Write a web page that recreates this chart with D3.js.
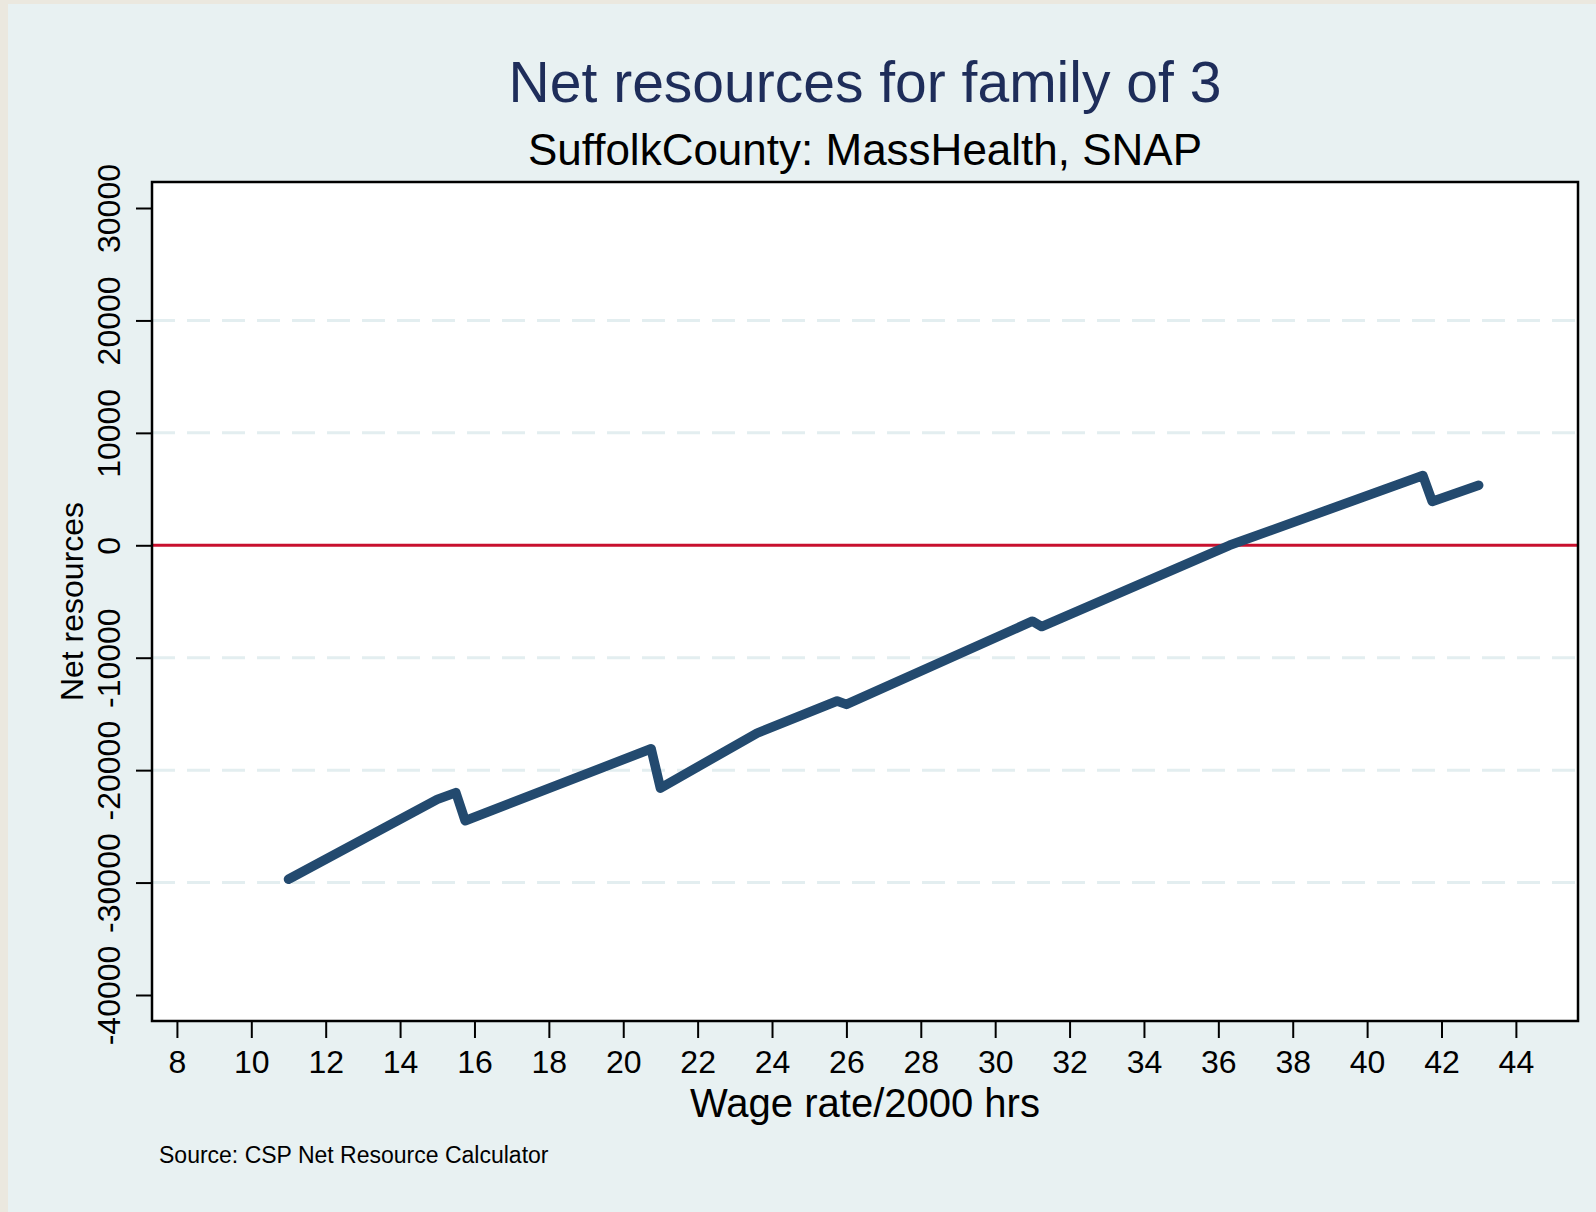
<!DOCTYPE html>
<html>
<head>
<meta charset="utf-8">
<script src="https://cdn.jsdelivr.net/npm/d3@7"></script>
<style>
  body { margin: 0; background: #ebe8df; }
  svg { display: block; font-family: "Liberation Sans", Arial, Helvetica, sans-serif; }
</style>
</head>
<body>
<div id="chart"></div>
<script>
// wage rate (x) and net resources (y)
var wage = [11, 15, 15.5, 15.75, 20.75, 21, 23.6, 25.75, 26, 31, 31.25, 36.3, 41.5, 41.75, 43];
var netRes = [-29700, -22600, -22000, -24500, -18100, -21600, -16700, -13850, -14150, -6750, -7230, 0, 6200, 3900, 5340];
var xTicks = [8, 10, 12, 14, 16, 18, 20, 22, 24, 26, 28, 30, 32, 34, 36, 38, 40, 42, 44];
var yTicks = [-40000, -30000, -20000, -10000, 0, 10000, 20000, 30000];
var gridVals = [-30000, -20000, -10000, 10000, 20000];

var W = 1596, H = 1212;
var plotL = 152, plotR = 1578, plotT = 182, plotB = 1021;

var svg = d3.select("#chart").append("svg")
    .attr("width", W)
    .attr("height", H);

// beige edge, then light blue page
svg.append("rect").attr("width", W).attr("height", H).attr("fill", "#ebe8df");
svg.append("rect").attr("x", 8).attr("y", 4).attr("width", W - 8).attr("height", H - 4).attr("fill", "#e8f1f2");

var x = d3.scaleLinear().domain([7.33, 45.67]).range([plotL, plotR]);
var y = d3.scaleLinear().domain([-42313, 32313]).range([plotB, plotT]);

svg.append("rect")
    .attr("x", plotL).attr("y", plotT)
    .attr("width", plotR - plotL).attr("height", plotB - plotT)
    .attr("fill", "white");

// dashed grid
svg.selectAll("line.grid")
    .data(gridVals)
    .enter()
    .append("line")
    .attr("class", "grid")
    .attr("x1", plotL).attr("x2", plotR)
    .attr("y1", function(d){ return y(d); })
    .attr("y2", function(d){ return y(d); })
    .attr("stroke", "#e3eef0")
    .attr("stroke-width", 3)
    .attr("stroke-dasharray", "23,12");

// zero line
svg.append("line")
    .attr("x1", plotL).attr("x2", plotR)
    .attr("y1", y(0)).attr("y2", y(0))
    .attr("stroke", "#c8102e")
    .attr("stroke-width", 3);

var line = d3.line()
    .x(function(d, i){ return x(wage[i]); })
    .y(function(d){ return y(d); });

svg.append("path")
    .datum(netRes)
    .attr("d", line)
    .attr("fill", "none")
    .attr("stroke", "#234a6f")
    .attr("stroke-width", 9.5)
    .attr("stroke-linejoin", "round")
    .attr("stroke-linecap", "round");

// frame
svg.append("rect")
    .attr("x", plotL).attr("y", plotT)
    .attr("width", plotR - plotL).attr("height", plotB - plotT)
    .attr("fill", "none")
    .attr("stroke", "black")
    .attr("stroke-width", 2.5);

// plain hyphen for negatives, like the original
var plain = function(d){ return String(d); };

// x axis
var xAxis = svg.append("g")
    .attr("transform", "translate(0," + plotB + ")")
    .call(d3.axisBottom(x).tickValues(xTicks).tickSize(17).tickFormat(plain));
xAxis.select(".domain").remove();
xAxis.selectAll(".tick line").attr("stroke", "black").attr("stroke-width", 2);
xAxis.selectAll(".tick text")
    .attr("y", 52).attr("dy", 0)
    .attr("font-size", 32)
    .attr("fill", "black");

// y axis, labels turned up the side
var yAxis = svg.append("g")
    .attr("transform", "translate(" + plotL + ",0)")
    .call(d3.axisLeft(y).tickValues(yTicks).tickSize(16).tickFormat(plain));
yAxis.select(".domain").remove();
yAxis.selectAll(".tick line").attr("stroke", "black").attr("stroke-width", 2);
yAxis.selectAll(".tick text")
    .attr("transform", "rotate(-90)")
    .attr("x", 0).attr("y", -32).attr("dy", 0)
    .attr("text-anchor", "middle")
    .attr("font-size", 32)
    .attr("fill", "black");

// titles
svg.append("text")
    .attr("x", (plotL + plotR) / 2).attr("y", 102)
    .attr("text-anchor", "middle")
    .attr("font-size", 57)
    .attr("fill", "#1e2d5a")
    .text("Net resources for family of 3");

svg.append("text")
    .attr("x", (plotL + plotR) / 2).attr("y", 165)
    .attr("text-anchor", "middle")
    .attr("font-size", 44)
    .attr("fill", "black")
    .text("SuffolkCounty: MassHealth, SNAP");

svg.append("text")
    .attr("x", (plotL + plotR) / 2).attr("y", 1117)
    .attr("text-anchor", "middle")
    .attr("font-size", 40)
    .attr("fill", "black")
    .text("Wage rate/2000 hrs");

svg.append("text")
    .attr("transform", "translate(83," + (plotT + plotB) / 2 + ") rotate(-90)")
    .attr("text-anchor", "middle")
    .attr("font-size", 32)
    .attr("fill", "black")
    .text("Net resources");

svg.append("text")
    .attr("x", 159).attr("y", 1163)
    .attr("font-size", 23)
    .attr("fill", "black")
    .text("Source: CSP Net Resource Calculator");
</script>
</body>
</html>
